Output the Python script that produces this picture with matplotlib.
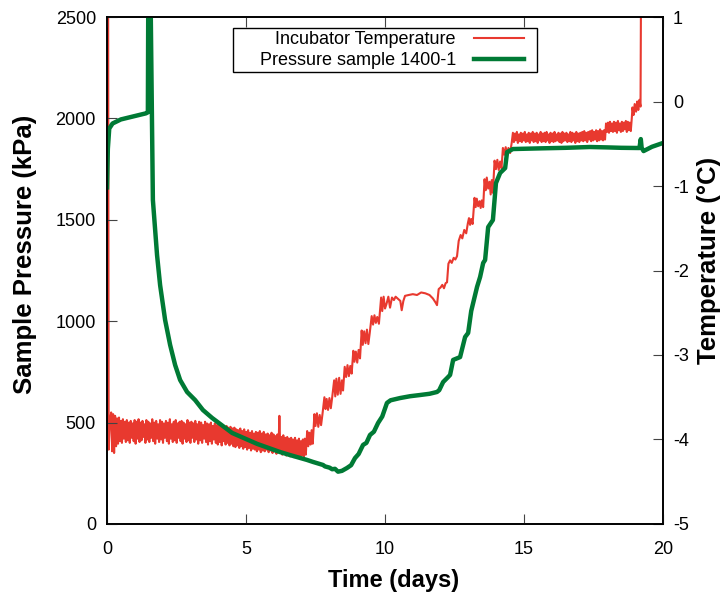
import matplotlib.pyplot as plt
import numpy as np
from matplotlib.path import Path

plt.rcParams['font.family'] = ['Liberation Sans', 'DejaVu Sans']
plt.rcParams['axes.unicode_minus'] = False

# sample 1400-1 pressure (kPa)
pressure_days = [0.00, 0.03, 0.08, 0.20, 0.50, 0.80, 1.10, 1.40, 1.47, 1.49,
                 1.55, 1.65, 1.80, 1.91, 2.09, 2.27, 2.45, 2.63, 2.88, 3.17,
                 3.45, 3.78, 4.50, 5.40, 6.22, 6.58, 7.19, 7.41, 7.77, 7.84, 8.00,
                 8.10, 8.20, 8.31, 8.45, 8.63, 8.78, 8.92, 9.05, 9.21, 9.33,
                 9.46, 9.60, 9.75, 9.90, 10.07, 10.20, 10.54, 10.90, 11.26, 11.60,
                 11.87, 11.95, 12.09, 12.25, 12.34, 12.45, 12.70, 12.88, 12.99, 13.10,
                 13.31, 13.42, 13.53, 13.60, 13.71, 13.88, 13.99, 14.14, 14.32, 14.39,
                 14.60, 15.50, 16.50, 17.37, 18.00, 18.50, 19.15, 19.20, 19.23, 19.30,
                 19.60, 20.00]
pressure_kpa = [1660, 1850, 1950, 1975, 1995, 2005, 2015, 2025, 2030, 2800,
                2800, 1598, 1326, 1178, 1006, 883, 784, 710, 651, 611,
                562, 523, 449, 395, 355, 340, 316, 306, 291, 284, 278,
                270, 272, 258, 262, 276, 290, 325, 345, 390, 400,
                439, 455, 498, 530, 597, 610, 621, 630, 636, 642,
                651, 660, 700, 722, 735, 809, 823, 922, 942, 1050,
                1169, 1218, 1287, 1302, 1464, 1499, 1681, 1731, 1755, 1834,
                1849, 1852, 1855, 1859, 1857, 1855, 1854, 1898, 1855, 1839,
                1860, 1879]

# incubator temperature (degC)
temp_start_days = [0.00, 0.04, 0.06, 0.10]
temp_start_c = [1.5, 1.5, -4.12, -3.80]

# noisy flat part, 0.15 .. 7.15 days
temp_flat_c = [-3.68, -4.14, -3.70, -4.16, -3.72, -4.08, -3.75, -4.05, -3.74, -4.02,
               -3.78, -4.04, -3.76, -3.99, -3.79, -4.03, -3.77, -4.01, -3.80, -4.04,
               -3.78, -3.98, -3.81, -4.02, -3.77, -4.05, -3.79, -3.99, -3.76, -4.03,
               -3.80, -4.01, -3.78, -3.97, -3.82, -4.04, -3.77, -4.00, -3.79, -4.03,
               -3.81, -3.98, -3.76, -4.02, -3.80, -4.05, -3.78, -3.99, -3.82, -4.03,
               -3.77, -4.00, -3.79, -4.04, -3.81, -3.98, -3.78, -4.02, -3.80, -4.05,
               -3.76, -3.99, -3.82, -4.03, -3.79, -4.01, -3.77, -4.04, -3.81, -3.98,
               -3.79, -4.02, -3.78, -4.05, -3.80, -3.99, -3.82, -4.03, -3.77, -4.01,
               -3.80, -4.04, -3.79, -3.98, -3.81, -4.03, -3.78, -4.00, -3.82, -4.05,
               -3.79, -4.01, -3.80, -4.04, -3.83, -3.99, -3.79, -4.03, -3.81, -4.06,
               -3.82, -4.02, -3.80, -4.05, -3.84, -4.00, -3.81, -4.04, -3.83, -4.06,
               -3.82, -4.03, -3.85, -4.07, -3.83, -4.02, -3.86, -4.06, -3.84, -4.04,
               -3.86, -4.07, -3.85, -4.05, -3.87, -4.08, -3.86, -4.09, -3.88, -4.07,
               -3.89, -4.10, -3.87, -4.08, -3.90, -4.11, -3.88, -4.09, -3.91, -4.12,
               -3.89, -4.10, -3.92, -4.13, -3.90, -4.11, -3.93, -4.12, -3.91, -4.14,
               -3.92, -4.12, -3.90, -4.15, -3.93, -4.13, -3.91, -4.14, -3.94, -4.12,
               -3.93, -4.15, -3.95, -4.13, -3.92, -4.16, -3.94, -4.14, -3.96, -4.17,
               -3.94, -4.15, -3.72, -4.16, -3.97, -4.18, -3.95, -4.16, -3.98, -4.19,
               -3.97, -4.18, -3.99, -4.20, -3.98, -4.17, -4.00, -4.21, -3.98, -4.19,
               -4.01, -4.20, -3.99, -4.21, -4.02, -4.19, -4.00, -4.20, -3.99, -4.18]

temp_rise_days = [7.20, 7.24, 7.28, 7.32, 7.36, 7.40,
                  7.46, 7.50, 7.55, 7.60, 7.65, 7.70, 7.75,
                  7.82, 7.86, 7.90, 7.95, 8.00, 8.05, 8.10,
                  8.17, 8.21, 8.25, 8.30, 8.35, 8.40, 8.45, 8.49,
                  8.55, 8.60, 8.65, 8.70, 8.75, 8.80,
                  8.86, 8.90, 8.95, 9.00, 9.05, 9.10,
                  9.16, 9.20, 9.25, 9.30, 9.35, 9.40, 9.45,
                  9.52, 9.57, 9.62, 9.67, 9.72, 9.78,
                  9.86, 9.90, 9.95, 10.00, 10.05,
                  10.12, 10.18, 10.25, 10.32, 10.38, 10.45,
                  10.55, 10.60, 10.66, 10.72,
                  10.85, 11.00, 11.15, 11.30, 11.45, 11.60, 11.72, 11.82, 11.87,
                  11.93, 12.00, 12.06, 12.12, 12.18, 12.23,
                  12.28, 12.34, 12.40, 12.47, 12.53, 12.59,
                  12.65, 12.72, 12.78, 12.85, 12.92, 12.98,
                  13.02, 13.06, 13.10, 13.15,
                  13.22, 13.26, 13.30, 13.35,
                  13.40, 13.44, 13.48, 13.53,
                  13.58, 13.62, 13.66, 13.71,
                  13.76, 13.80, 13.84, 13.88,
                  13.94, 13.99, 14.04, 14.09, 14.14, 14.19,
                  14.24, 14.29, 14.34, 14.39, 14.44, 14.50, 14.56]
temp_rise_c = [-3.90, -4.08, -3.92, -4.06, -3.89, -4.05,
               -3.70, -3.84, -3.69, -3.85, -3.71, -3.83, -3.70,
               -3.50, -3.64, -3.52, -3.65, -3.51, -3.63, -3.50,
               -3.30, -3.49, -3.28, -3.47, -3.27, -3.46, -3.30, -3.42,
               -3.14, -3.26, -3.12, -3.25, -3.13, -3.22,
               -2.95, -3.08, -2.96, -3.09, -2.94, -3.04,
               -2.71, -2.88, -2.72, -2.86, -2.70, -2.87, -2.74,
               -2.54, -2.64, -2.53, -2.62, -2.55, -2.63,
               -2.32, -2.48, -2.31, -2.45, -2.40,
               -2.31, -2.44, -2.32, -2.35, -2.31, -2.33,
               -2.36, -2.47, -2.36, -2.30,
               -2.29, -2.28, -2.29, -2.26, -2.27, -2.29, -2.33, -2.38, -2.41,
               -2.22, -2.20, -2.17, -2.21, -2.15, -2.14,
               -1.92, -1.88, -1.91, -1.85, -1.87, -1.83,
               -1.65, -1.58, -1.62, -1.52, -1.56, -1.44,
               -1.38, -1.46, -1.39, -1.45,
               -1.14, -1.25, -1.15, -1.24,
               -1.18, -1.26, -1.17, -1.25,
               -0.92, -1.05, -0.90, -1.03,
               -0.95, -1.10, -0.93, -1.08,
               -0.70, -0.80, -0.69, -0.81, -0.71, -0.79,
               -0.55, -0.63, -0.54, -0.62, -0.55, -0.61, -0.48]

# plateau, 14.60 .. 18.84 days
temp_plateau_c = [-0.37, -0.48, -0.38, -0.46, -0.36, -0.49, -0.39, -0.47, -0.37, -0.48,
                  -0.38, -0.46, -0.36, -0.48, -0.39, -0.47, -0.37, -0.49, -0.38, -0.46,
                  -0.36, -0.48, -0.38, -0.47, -0.37, -0.49, -0.39, -0.46, -0.36, -0.48,
                  -0.38, -0.47, -0.37, -0.48, -0.36, -0.46, -0.39, -0.49, -0.37, -0.47,
                  -0.38, -0.48, -0.36, -0.47, -0.39, -0.46, -0.37, -0.48, -0.38, -0.49,
                  -0.36, -0.47, -0.38, -0.46, -0.37, -0.48, -0.39, -0.47, -0.36, -0.48,
                  -0.37, -0.46, -0.38, -0.49, -0.36, -0.47, -0.38, -0.48, -0.37, -0.46,
                  -0.36, -0.47, -0.35, -0.46, -0.37, -0.48, -0.36, -0.45, -0.35, -0.47,
                  -0.34, -0.46, -0.36, -0.45, -0.34, -0.47, -0.35, -0.46, -0.33, -0.45,
                  -0.35, -0.46, -0.34, -0.45, -0.26, -0.36, -0.25, -0.37, -0.24, -0.35,
                  -0.26, -0.36, -0.24, -0.35, -0.25, -0.37, -0.23, -0.34, -0.26, -0.36,
                  -0.24, -0.35, -0.25, -0.33, -0.23, -0.36, -0.24, -0.34, -0.25, -0.35]

temp_end_days = [18.88, 18.90, 18.94, 18.98, 19.03, 19.07, 19.11, 19.15, 19.19, 19.21]
temp_end_c = [-0.18, -0.07, -0.16, -0.03, -0.12, 0.00, -0.10, 0.02, -0.06, 1.5]

temp_days = np.concatenate([temp_start_days,
                            np.linspace(0.15, 7.15, len(temp_flat_c)),
                            temp_rise_days,
                            np.linspace(14.60, 18.84, len(temp_plateau_c)),
                            temp_end_days])
temp_c = np.concatenate([temp_start_c, temp_flat_c, temp_rise_c, temp_plateau_c, temp_end_c])

red = '#e8392f'
green = '#007a35'


def key_box(x0, y0, width, height, mutation_size):
    # gnuplot style key: extra room left of the right-aligned labels
    left = x0 - 1.33 * mutation_size
    right = x0 + width + 0.57 * mutation_size
    top = y0 + height
    return Path([(left, y0), (right, y0), (right, top), (left, top), (left, y0)],
                closed=True)


fig = plt.figure(figsize=(7.24, 5.97), dpi=100)
ax = fig.add_axes([0.1478, 0.1223, 0.768, 0.8492])
ax2 = ax.twinx()

ln_t, = ax2.plot(temp_days, temp_c, color=red, lw=1.5, label='Incubator Temperature')
ln_p, = ax.plot(pressure_days, pressure_kpa, color=green, lw=3.2, label='Pressure sample 1400-1')

# pressure line goes on top of the temperature line
ax.set_zorder(ax2.get_zorder() + 1)
ax.patch.set_visible(False)

ax.set_xlim(0, 20)
ax.set_ylim(0, 2500)
ax2.set_ylim(-5, 1)
ax.set_xticks([0, 5, 10, 15, 20])
ax.set_yticks([0, 500, 1000, 1500, 2000, 2500])
ax2.set_yticks([-5, -4, -3, -2, -1, 0, 1])

ax.tick_params(axis='x', direction='in', top=True, length=7, width=0.8,
               color='#444444', labelsize=13, pad=12)
ax.tick_params(axis='y', direction='in', right=False, length=7, width=0.8,
               color='#444444', labelsize=13, pad=8)
ax2.tick_params(axis='y', direction='in', length=7, width=0.8,
                color='#444444', labelsize=13, pad=7)
for a in (ax, ax2):
    for s in a.spines.values():
        s.set_linewidth(1.2)

ax.set_xlabel('Time (days)', fontsize=17, fontweight='bold', labelpad=8)
ax.set_ylabel('Sample Pressure (kPa)', fontsize=18.5, fontweight='bold', labelpad=13)
ax2.set_ylabel('Temperature (°C)', fontsize=18.5, fontweight='bold', labelpad=6)
ax.xaxis.label.set_x(0.516)
ax.yaxis.label.set_y(0.5325)
ax2.yaxis.label.set_y(0.519)

leg = ax.legend([ln_t, ln_p], ['Incubator Temperature', 'Pressure sample 1400-1'],
                loc='upper center', bbox_to_anchor=(0.512, 0.978), borderaxespad=0,
                markerfirst=False, fontsize=13, handlelength=2.75, handletextpad=1.0,
                labelspacing=0.25, borderpad=0.15, fancybox=False, framealpha=1,
                edgecolor='black')
leg.get_frame().set_linewidth(1.0)
leg.get_frame().set_boxstyle(key_box)

fig.savefig('out.png', dpi=100)
